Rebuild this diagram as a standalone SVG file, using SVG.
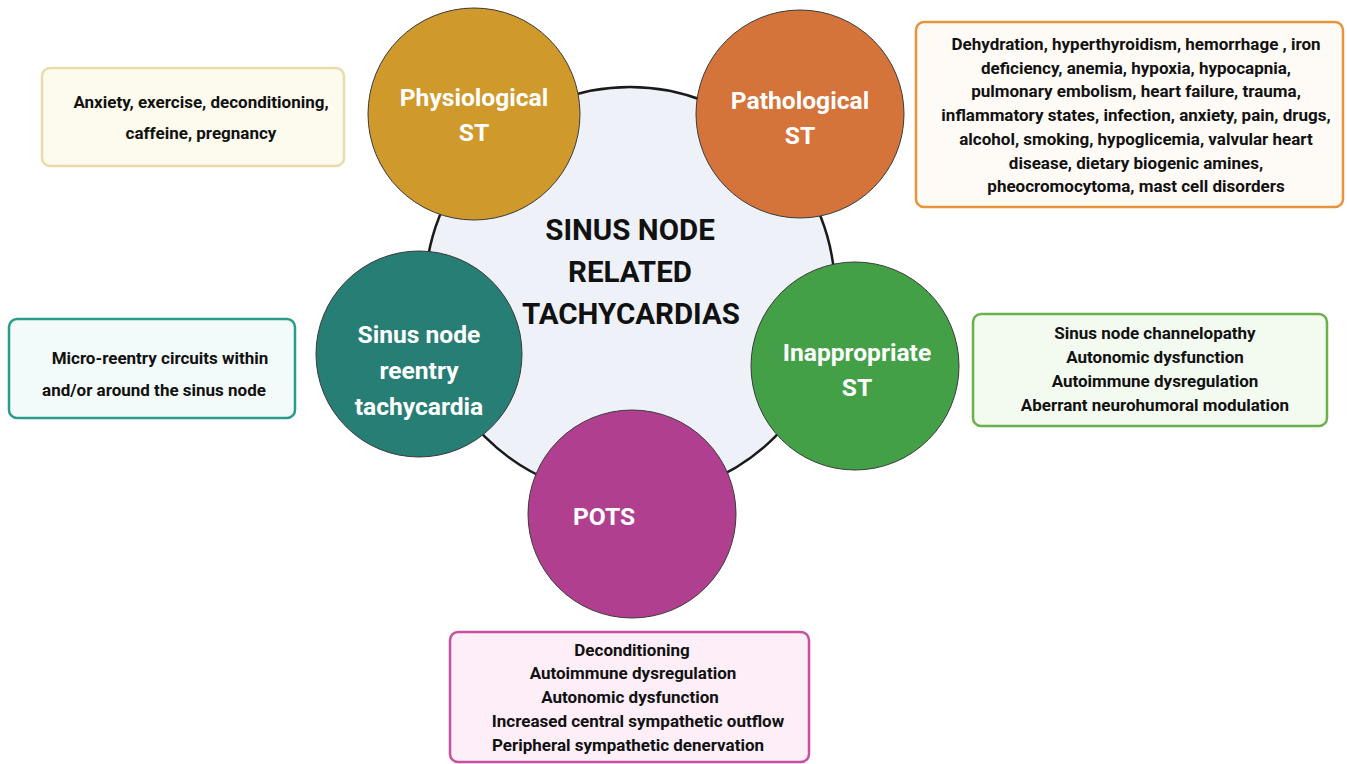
<svg xmlns="http://www.w3.org/2000/svg" width="1347" height="764" viewBox="0 0 1347 764">
<style>
.bg{fill:#ffffff}
.ct{font-family:Roboto,"Liberation Sans",sans-serif;font-weight:bold;text-anchor:middle;fill:#ffffff;font-size:24.6px}
.mt{font-family:Roboto,"Liberation Sans",sans-serif;font-weight:bold;text-anchor:middle;fill:#111111;font-size:29.5px}
.bt{font-family:Roboto,"Liberation Sans",sans-serif;font-weight:bold;text-anchor:middle;fill:#111111;font-size:17px}
.circ{stroke:#3a3a3a;stroke-width:1}
.box{stroke-width:2.5}
</style>
<rect class="bg" x="0" y="0" width="1347" height="764"/>
<g id="center">
<circle cx="630" cy="292" r="205" fill="#eef2f8" stroke="#1a1a1a" stroke-width="2.5"/>
<text class="mt" x="630" y="240">SINUS NODE</text>
<text class="mt" x="630" y="282">RELATED</text>
<text class="mt" x="631" y="324">TACHYCARDIAS</text>
</g>
<g id="physiological">
<circle class="circ" cx="474" cy="114" r="106" fill="#cf9a2b"/>
<text class="ct" x="474" y="106">Physiological</text>
<text class="ct" x="474" y="141">ST</text>
</g>
<g id="pathological">
<circle class="circ" cx="800" cy="114" r="104" fill="#d4733a"/>
<text class="ct" x="800" y="109">Pathological</text>
<text class="ct" x="800" y="144">ST</text>
</g>
<g id="reentry">
<circle class="circ" cx="419" cy="354" r="103" fill="#277e75"/>
<text class="ct" x="419" y="343">Sinus node</text>
<text class="ct" x="419" y="379">reentry</text>
<text class="ct" x="419" y="415">tachycardia</text>
</g>
<g id="inappropriate">
<circle class="circ" cx="855" cy="366" r="104" fill="#43a047"/>
<text class="ct" x="857" y="361">Inappropriate</text>
<text class="ct" x="857" y="396">ST</text>
</g>
<g id="pots">
<circle class="circ" cx="632" cy="514" r="104" fill="#b0408f"/>
<text class="ct" x="604" y="525">POTS</text>
</g>
<g id="box-physiological">
<rect class="box" x="42" y="68" width="302" height="98" rx="8" fill="#fdfaee" stroke="#e8dcaa"/>
<text class="bt" x="201" y="108">Anxiety, exercise, deconditioning,</text>
<text class="bt" x="201" y="139">caffeine, pregnancy</text>
</g>
<g id="box-pathological">
<rect class="box" x="916" y="22" width="427" height="185" rx="8" fill="#fefaf6" stroke="#e8923a"/>
<text class="bt" x="1136" y="50">Dehydration, hyperthyroidism, hemorrhage , iron</text>
<text class="bt" x="1136" y="74">deficiency, anemia, hypoxia, hypocapnia,</text>
<text class="bt" x="1136" y="97">pulmonary embolism, heart failure, trauma,</text>
<text class="bt" x="1136" y="121">inflammatory states, infection, anxiety, pain, drugs,</text>
<text class="bt" x="1136" y="145">alcohol, smoking, hypoglicemia, valvular heart</text>
<text class="bt" x="1136" y="169">disease, dietary biogenic amines,</text>
<text class="bt" x="1136" y="192">pheocromocytoma, mast cell disorders</text>
</g>
<g id="box-reentry">
<rect class="box" x="9" y="319" width="286" height="99" rx="8" fill="#f3fbfa" stroke="#2a9a8a"/>
<text class="bt" x="160" y="364">Micro-reentry circuits within</text>
<text class="bt" x="154" y="396">and/or around the sinus node</text>
</g>
<g id="box-inappropriate">
<rect class="box" x="973" y="314" width="354" height="112" rx="8" fill="#f3faf0" stroke="#6ab04c"/>
<text class="bt" x="1155" y="339">Sinus node channelopathy</text>
<text class="bt" x="1155" y="363">Autonomic dysfunction</text>
<text class="bt" x="1155" y="387">Autoimmune dysregulation</text>
<text class="bt" x="1155" y="411">Aberrant neurohumoral modulation</text>
</g>
<g id="box-pots">
<rect class="box" x="450" y="632" width="359" height="130" rx="8" fill="#fdeef8" stroke="#c850a0"/>
<text class="bt" x="632" y="656">Deconditioning</text>
<text class="bt" x="633" y="679">Autoimmune dysregulation</text>
<text class="bt" x="630" y="703">Autonomic dysfunction</text>
<text class="bt" x="638" y="727">Increased central sympathetic outflow</text>
<text class="bt" x="628" y="751">Peripheral sympathetic denervation</text>
</g>
<g id="connectors"></g>
</svg>
